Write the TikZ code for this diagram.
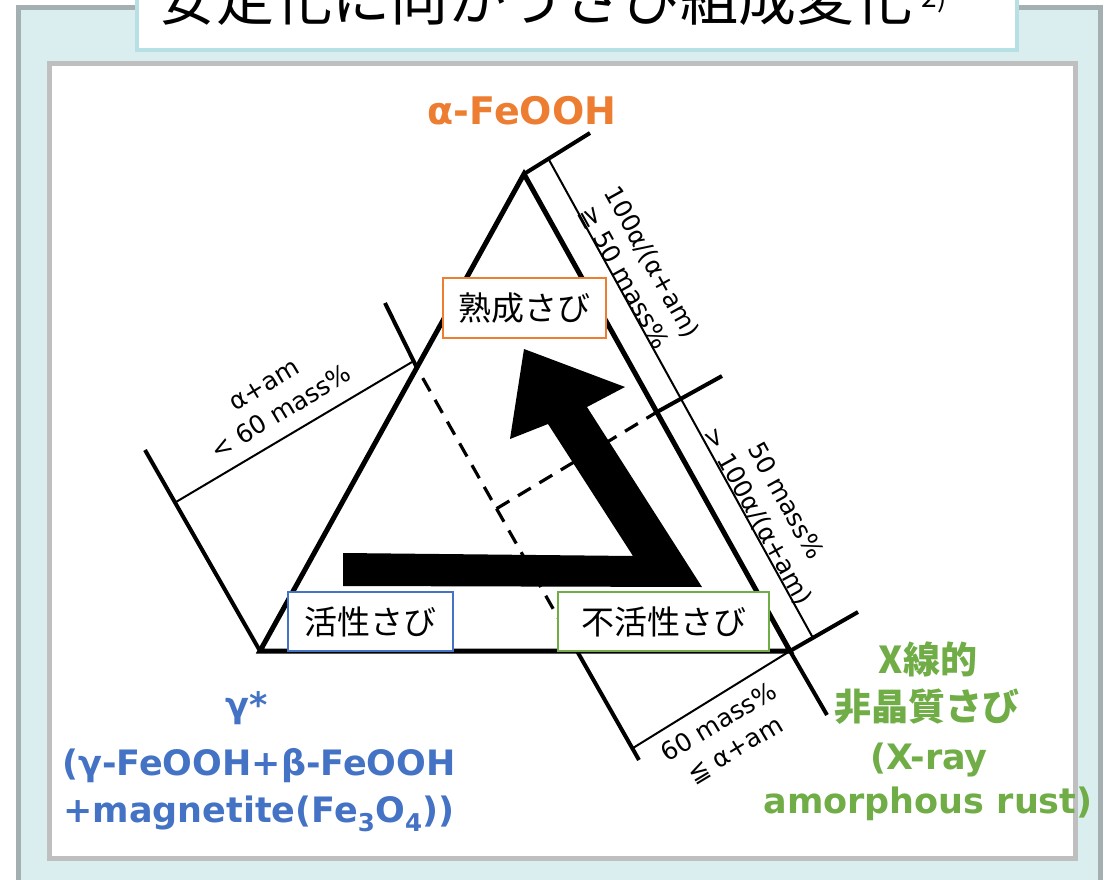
\documentclass[tikz,border=0pt]{standalone}
\usepackage{fontspec}
\setmainfont{DejaVu Sans}
\newfontfamily\jp{Noto Sans CJK JP}
\newfontfamily\lab{DejaVu Sans}
\definecolor{orangeC}{HTML}{ED7D31}
\definecolor{blueC}{HTML}{4472C4}
\definecolor{greenC}{HTML}{70AD47}
\definecolor{bgC}{HTML}{DAEDEF}
\definecolor{frameC}{HTML}{A3AFB0}
\definecolor{panelC}{HTML}{BFBFBF}
\definecolor{titleC}{HTML}{B7E0E4}
\begin{document}
\begin{tikzpicture}[x=1pt,y=-1pt,
  tri/.style={line width=5pt, line join=miter},
  ext/.style={line width=4pt},
  dim/.style={line width=2pt},
  dsh/.style={line width=3.2pt, dash pattern=on 15pt off 10pt},
  rbox/.style={draw, line width=1.5pt, fill=white, inner sep=0pt,
    font=\jp\fontsize{33}{38}\selectfont},
  lbl/.style={font=\lab\fontsize{25}{32}\selectfont, align=center, inner sep=0pt},
  big/.style={font=\lab\bfseries\fontsize{35}{40}\selectfont, inner sep=0pt},
  bigjp/.style={font=\jp\bfseries\fontsize{37}{42}\selectfont, inner sep=0pt},
]
\useasboundingbox (0,0) rectangle (1106,880);
\clip (0,0) rectangle (1106,880);
% frames
\fill[bgC] (18.5,7.5) rectangle (1100.5,900);
\draw[frameC, line width=5pt] (18.5,900) -- (18.5,7.5) -- (1100.5,7.5) -- (1100.5,900);
\draw[fill=white, draw=titleC, line width=4pt] (136.5,-30) rectangle (1017,50.5);
\node[anchor=base west, inner sep=0pt] (title) at (158,21)
  {\jp\fontsize{58}{60}\selectfont 安定化に向かうさび組成変化\,\raisebox{13pt}{\fontsize{28}{28}\selectfont 2)}};
\draw[fill=white, draw=panelC, line width=5pt] (49.5,63.5) rectangle (1075.5,858);

% key points
\coordinate (A) at (524,174);
\coordinate (B) at (260,651);
\coordinate (C) at (790,651);
\coordinate (Aext) at (590,133);
\coordinate (M) at (657,412);
\coordinate (Mext) at (722,376);
\coordinate (Cext) at (858,612);
\coordinate (Cdown) at (827,715);
\coordinate (RD1) at (548,158);
\coordinate (RD2) at (813,638);
\coordinate (P) at (417,368);
\coordinate (Pext) at (385,303);
\coordinate (Bext) at (145,450);
\coordinate (LD1) at (176,502);
\coordinate (LD2) at (412,362);
\coordinate (Q) at (577,651);
\coordinate (Qext) at (639,760);
\coordinate (BD1) at (633,748);
\coordinate (X) at (intersection of P--Q and M--B);

% triangle
\draw[tri] (A) -- (B) -- (C) -- cycle;
% extension lines
\draw[ext] (A) -- (Aext);
\draw[ext] (M) -- (Mext);
\draw[ext] (C) -- (Cext);
\draw[ext] (C) -- (Cdown);
\draw[ext] (P) -- (Pext);
\draw[ext] (B) -- (Bext);
\draw[ext] (Q) -- (Qext);
% dimension lines
\draw[dim] (RD1) -- (RD2);
\draw[dim] (LD1) -- (LD2);
\draw[dim] (BD1) -- (C);
% dashed lines
\draw[dsh] (X) -- (M);
\draw[dsh] (X) -- (Q);
\draw[dsh, dash phase=15pt] (X) -- (P);

% big arrow
\fill[black] (343,553) -- (633,556) -- (548,424) -- (510,439) -- (524,349)
  -- (625,387) -- (587,407) -- (702,587) -- (343,586) -- cycle;

% boxes
\node[rbox, draw=orangeC, minimum width=163pt, minimum height=60pt] (mature) at (524.5,308) {熟成さび};
\node[rbox, draw=blueC, minimum width=165pt, minimum height=59pt] (active) at (370.5,621.5) {活性さび};
\node[rbox, draw=greenC, minimum width=211pt, minimum height=59pt] (inactive) at (663.5,621.5) {不活性さび};

% rotated labels
\node[lbl, rotate=31] (lleft) at (273,399) {α+am\\< 60 mass\%};
\node[lbl, rotate=-61] (lrt) at (638,270) {100α/(α+am)\\≧ 50 mass\%};
\node[lbl, rotate=-61] (lrb) at (771,509) {50 mass\%\\> 100α/(α+am)};
\node[lbl, rotate=31] (lbot) at (727,736) {60 mass\%\\≦ α+am};

% vertex labels
\node[big, text=orangeC, font=\lab\bfseries\fontsize{38}{42}\selectfont] (alpha) at (522,111) {α-FeOOH};
\node[big, text=blueC] (g1) at (247,708) {γ*};
\node[big, text=blueC] (g2) at (259,766) {(γ-FeOOH+β-FeOOH};
\node[big, text=blueC] (g3) at (259,814) {+magnetite(Fe\textsubscript{3}O\textsubscript{4}))};
\node[bigjp, text=greenC] (x1) at (928,659) {X線的};
\node[bigjp, text=greenC] (x2) at (927,707) {非晶質さび};
\node[big, text=greenC] (x3) at (929,760) {(X-ray};
\node[big, text=greenC] (x4) at (928,804) {amorphous rust)};
\end{tikzpicture}
\end{document}
